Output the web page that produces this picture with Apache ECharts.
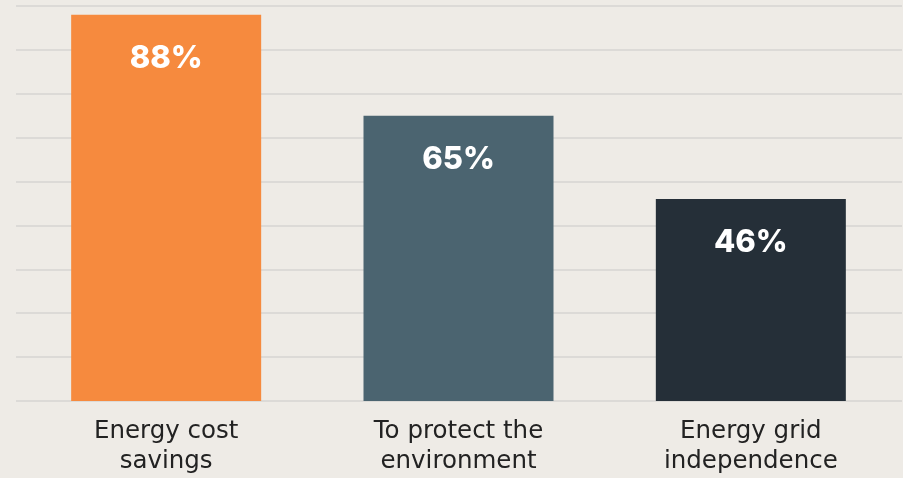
<!DOCTYPE html>
<html>
<head>
<meta charset="utf-8">
<script src="https://cdn.jsdelivr.net/npm/echarts@6/dist/echarts.min.js"></script>
<style>
  html, body { margin: 0; padding: 0; background: #EEEBE6; }
  #chart { width: 903px; height: 478px; }
</style>
</head>
<body>
<div id="chart"></div>
<script>
var categories = ["Energy cost\nsavings", "To protect the\nenvironment", "Energy grid\nindependence"];
var values = [88, 65, 46];
var barColors = ["#F68A3E", "#4B6470", "#252F38"];
var yMax = 90;
var yStep = 10;

var myChart = echarts.init(document.getElementById("chart"));

var option = {
  backgroundColor: "#EEEBE6",
  animation: false,
  grid: [
    // bars
    { left: 20, right: 6, top: 6, bottom: 77 },
    // gridlines only, a bit wider
    { left: 16, right: 1, top: 6, bottom: 77 }
  ],
  xAxis: [
    {
      gridIndex: 0,
      type: "category",
      data: categories,
      axisLine: { show: false },
      axisTick: { show: false },
      axisLabel: {
        color: "#222222",
        fontFamily: "DejaVu Sans",
        fontSize: 24.5,
        lineHeight: 30,
        margin: 16,
        interval: 0
      }
    },
    {
      gridIndex: 1,
      type: "value",
      show: false
    }
  ],
  yAxis: [
    {
      gridIndex: 0,
      type: "value",
      min: 0,
      max: yMax,
      interval: yStep,
      show: false
    },
    {
      gridIndex: 1,
      type: "value",
      min: 0,
      max: yMax,
      interval: yStep,
      axisLine: { show: false },
      axisTick: { show: false },
      axisLabel: { show: false },
      splitLine: {
        show: true,
        lineStyle: { color: "#DCDAD7", width: 2 }
      }
    }
  ],
  series: [
    {
      type: "bar",
      xAxisIndex: 0,
      yAxisIndex: 0,
      barWidth: 190,
      data: values.map(function (v, i) {
        return { value: v, itemStyle: { color: barColors[i] } };
      }),
      label: {
        show: true,
        position: "insideTop",
        distance: 28,
        color: "#FFFFFF",
        fontFamily: "Inter",
        fontWeight: 800,
        fontSize: 31,
        formatter: "{c}%"
      },
      z: 3
    }
  ]
};

myChart.setOption(option, true);
window.addEventListener("resize", function () {
  myChart.resize();
});
</script>
</body>
</html>
